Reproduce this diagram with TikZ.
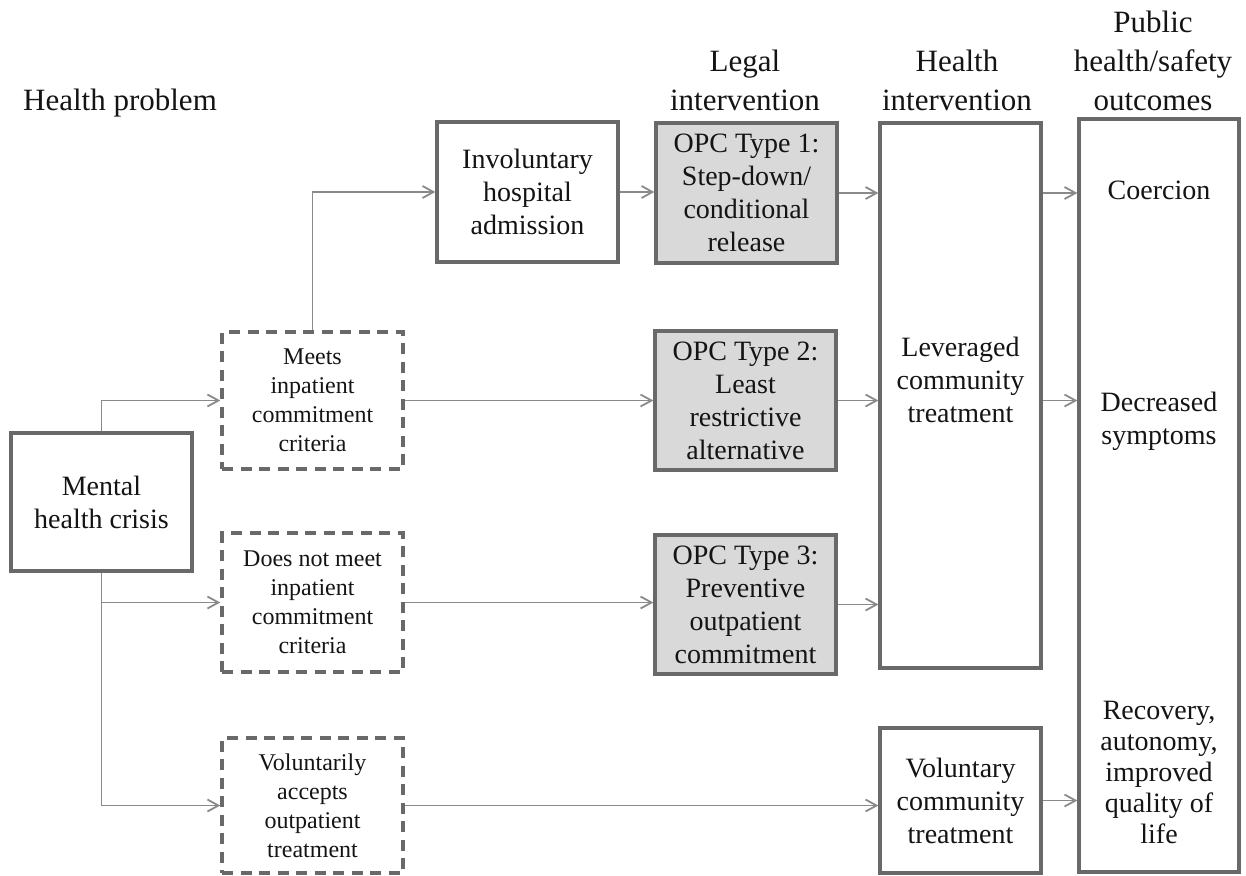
\documentclass[tikz,border=0pt]{standalone}
\usepackage{fontspec}
\setmainfont{Liberation Serif}
\usetikzlibrary{arrows.meta,calc}

\definecolor{boxgray}{HTML}{696969}
\definecolor{arrowgray}{HTML}{8A8A8A}
\definecolor{opcfill}{HTML}{D9D9D9}
\definecolor{inkblack}{HTML}{141414}

\tikzset{
  solidbox/.style={draw=boxgray, line width=3.2pt, fill=white, align=center,
    inner sep=2pt, text=inkblack, font=\fontsize{28}{33}\selectfont},
  opcbox/.style={solidbox, fill=opcfill},
  dashbox/.style={draw=boxgray, line width=3.4pt, dash pattern=on 11pt off 7.5pt,
    align=center, inner sep=2pt, text=inkblack, font=\fontsize{24}{29}\selectfont},
  header/.style={align=center, inner sep=0pt, text=inkblack,
    font=\fontsize{31}{39}\selectfont},
  boxtext/.style={align=center, inner sep=0pt, text=inkblack,
    font=\fontsize{28}{33}\selectfont},
  arr/.style={draw=arrowgray, line width=1.8pt,
    -{Straight Barb[length=11pt,width=12pt,line width=1.8pt]}},
}

\begin{document}
\begin{tikzpicture}[x=1pt, y=-1pt]
\useasboundingbox (0,0) rectangle (1246,875);

% column headings
\node[header, anchor=base] (hprob) at (120,110) {Health problem};
\node[header] (hlegal) at (745,80.4) {Legal\\intervention};
\node[header] (hhealth) at (957,80.4) {Health\\intervention};
\node[header] (hpublic) at (1153,60.4) {Public\\health/safety\\outcomes};

% health problem
\node[solidbox, minimum width=181pt, minimum height=138pt] (crisis) at (101.5,502)
  {Mental\\health crisis};

% criteria
\node[dashbox, minimum width=181pt, minimum height=137pt] (meets) at (312.5,400.5)
  {Meets\\inpatient\\commitment\\criteria};
\node[dashbox, minimum width=181pt, minimum height=139pt] (doesnot) at (312.5,602.5)
  {Does not meet\\inpatient\\commitment\\criteria};
\node[dashbox, minimum width=181pt, minimum height=135pt] (volun) at (312.5,805.5)
  {Voluntarily\\accepts\\outpatient\\treatment};

% hospital admission and legal interventions
\node[solidbox, minimum width=181pt, minimum height=140pt] (invol) at (527.5,192)
  {Involuntary\\hospital\\admission};
\node[opcbox, minimum width=181pt, minimum height=140pt] (opc1) at (746.5,193)
  {OPC Type 1:\\Step-down/\\conditional\\release};
\node[opcbox, minimum width=181pt, minimum height=139pt] (opc2) at (745.5,400.5)
  {OPC Type 2:\\Least\\restrictive\\alternative};
\node[opcbox, minimum width=181pt, minimum height=139pt] (opc3) at (745.5,604.5)
  {OPC Type 3:\\Preventive\\outpatient\\commitment};

% health interventions
\node[solidbox, minimum width=161pt, minimum height=545pt] (lever) at (960.5,395.5) {};
\node[boxtext] (levertext) at (960.5,380) {Leveraged\\community\\treatment};
\node[solidbox, minimum width=161pt, minimum height=145pt] (volcom) at (960.5,800.5)
  {Voluntary\\community\\treatment};

% outcomes
\node[solidbox, minimum width=160pt, minimum height=753pt] (outcomes) at (1159,495.5) {};
\node[boxtext] (coercion) at (1159,190) {Coercion};
\node[boxtext] (decreased) at (1159,421) {Decreased\\symptoms};
\node[boxtext, font=\fontsize{28}{31}\selectfont] (recovery) at (1159,772)
  {Recovery,\\autonomy,\\improved\\quality of\\life};

% connectors
\draw[arr] (crisis.north) |- (meets.west);
\draw[arr] (crisis.south) |- (doesnot.west);
\draw[arr] (crisis.south) |- (volun.west);
\draw[arr] (meets.north) |- (invol.west);

\draw[arr] (invol.east) -- (invol.east -| opc1.west);
\draw[arr] (meets.east) -- (meets.east -| opc2.west);
\draw[arr] (doesnot.east) -- (doesnot.east -| opc3.west);
\draw[arr] (volun.east) -- (volun.east -| volcom.west);

\draw[arr] (opc1.east) -- (opc1.east -| lever.west);
\draw[arr] (opc2.east) -- (opc2.east -| lever.west);
\draw[arr] (opc3.east) -- (opc3.east -| lever.west);

\draw[arr] (lever.east |- opc1.east) -- (outcomes.west |- opc1.east);
\draw[arr] (lever.east |- opc2.east) -- (outcomes.west |- opc2.east);
\draw[arr] (volcom.east) -- (volcom.east -| outcomes.west);
\end{tikzpicture}
\end{document}
